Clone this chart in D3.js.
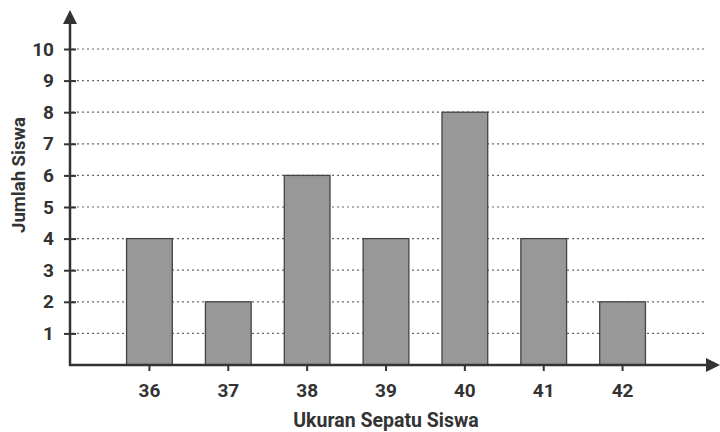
<!DOCTYPE html>
<html>
<head>
<meta charset="utf-8">
<script src="https://cdn.jsdelivr.net/npm/d3@7"></script>
<style>
  html, body { margin: 0; padding: 0; background: #fff; }
  svg { display: block; font-family: Roboto, "Noto Sans", sans-serif; }
</style>
</head>
<body>
<svg id="chart" width="720" height="432"></svg>
<script>
// Shoe sizes and number of students per size
const sizes = ["36", "37", "38", "39", "40", "41", "42"];
const students = [4, 2, 6, 4, 8, 4, 2];
const yTicks = [1, 2, 3, 4, 5, 6, 7, 8, 9, 10];
const xTitle = "Ukuran Sepatu Siswa";
const yTitle = "Jumlah Siswa";

const svg = d3.select("#chart");
const axisColor = "#333";
const originX = 70, baseY = 365;

const x = d3.scaleBand().domain(sizes).range([110, 662]).paddingInner(0.42).paddingOuter(0.21);
const y = d3.scaleLinear().domain([0, 10]).range([baseY, 49]);

// dotted horizontal grid lines
svg.append("g").selectAll("line").data(yTicks).join("line")
  .attr("x1", originX + 2).attr("x2", 705)
  .attr("y1", d => y(d)).attr("y2", d => y(d))
  .attr("stroke", "#666").attr("stroke-width", 1.2)
  .attr("stroke-dasharray", "2,3");

// bars
svg.append("g").selectAll("rect").data(sizes).join("rect")
  .attr("x", d => x(d))
  .attr("y", (d, i) => y(students[i]))
  .attr("width", x.bandwidth())
  .attr("height", (d, i) => baseY - y(students[i]))
  .attr("fill", "#989898")
  .attr("stroke", "#444").attr("stroke-width", 1.3);

// y axis with tick marks and labels
const yAxis = d3.axisLeft(y).tickValues(yTicks).tickSize(12).tickFormat(d3.format("d"));
const gy = svg.append("g").attr("transform", `translate(${originX + 6},0)`).call(yAxis);
gy.select(".domain").remove();
gy.selectAll(".tick line").attr("stroke", axisColor).attr("stroke-width", 2);
gy.selectAll(".tick text")
  .attr("x", -22)
  .attr("fill", axisColor).attr("font-size", 19).attr("font-weight", 700)
  .attr("font-family", "Roboto, sans-serif");

// x axis tick marks and labels
const xAxis = d3.axisBottom(x).tickSize(6).tickPadding(13);
const gx = svg.append("g").attr("transform", `translate(0,${baseY})`).call(xAxis);
gx.select(".domain").remove();
gx.selectAll(".tick line").attr("stroke", axisColor).attr("stroke-width", 2);
gx.selectAll(".tick text")
  .attr("fill", axisColor).attr("font-size", 19).attr("font-weight", 700)
  .attr("font-family", "Roboto, sans-serif");

// axis lines with arrowheads
svg.append("line").attr("x1", originX).attr("x2", originX)
  .attr("y1", baseY + 1).attr("y2", 22)
  .attr("stroke", axisColor).attr("stroke-width", 2.5);
svg.append("path")
  .attr("d", `M${originX},10 L${originX - 7},24 L${originX + 7},24 Z`)
  .attr("fill", axisColor);
svg.append("line").attr("x1", originX - 1).attr("x2", 708)
  .attr("y1", baseY).attr("y2", baseY)
  .attr("stroke", axisColor).attr("stroke-width", 2.5);
svg.append("path")
  .attr("d", `M720,${baseY} L706,${baseY - 7} L706,${baseY + 7} Z`)
  .attr("fill", axisColor);

// axis titles
svg.append("text")
  .attr("x", 386).attr("y", 427)
  .attr("text-anchor", "middle")
  .attr("fill", axisColor).attr("font-size", 19.5).attr("font-weight", 700)
  .text(xTitle);
svg.append("text")
  .attr("transform", "translate(25,175) rotate(-90)")
  .attr("text-anchor", "middle")
  .attr("fill", axisColor).attr("font-size", 18.5).attr("font-weight", 700)
  .text(yTitle);
</script>
</body>
</html>
